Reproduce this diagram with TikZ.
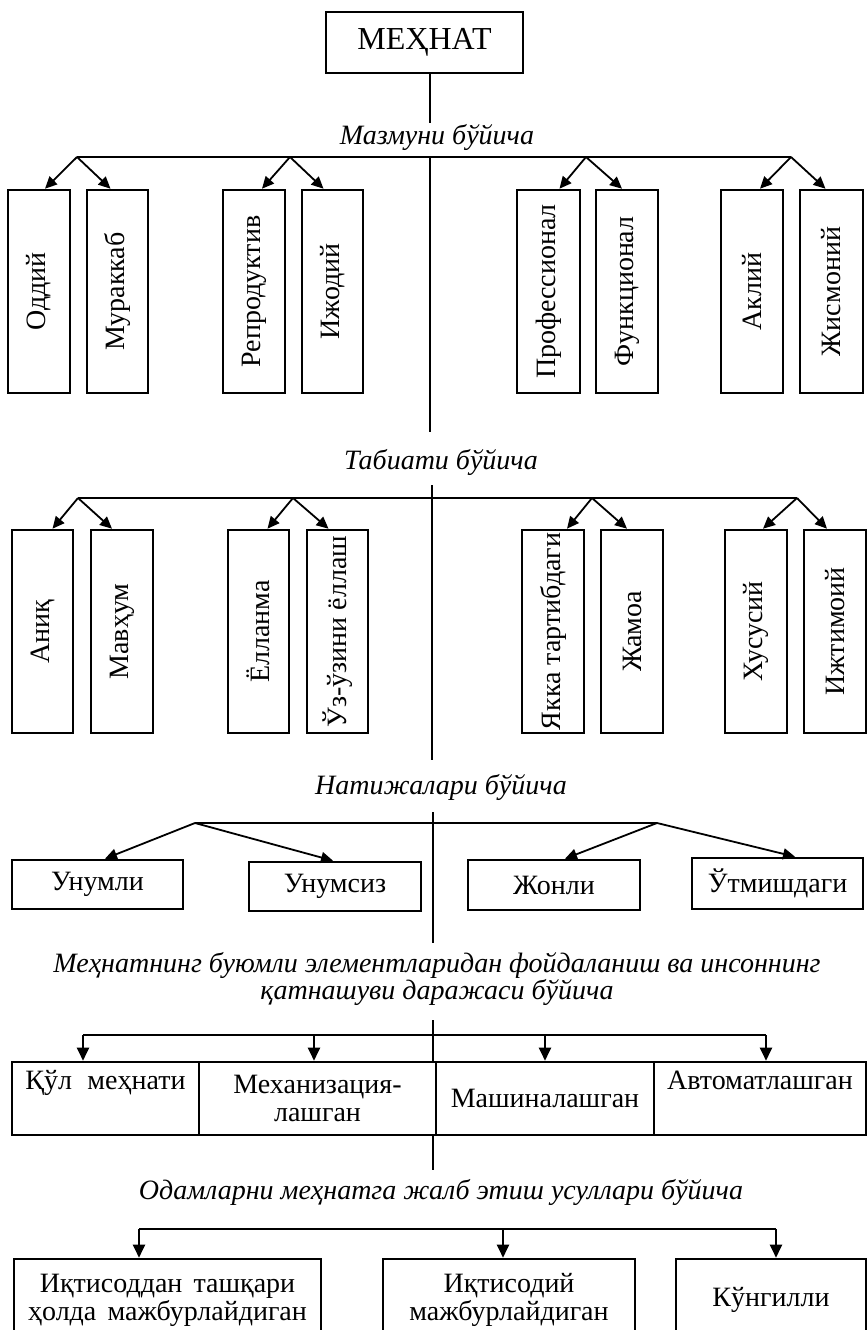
\documentclass[tikz,border=0pt]{standalone}
\usepackage{fontspec}
\usepackage{graphicx}
\setmainfont{Liberation Serif}
\usetikzlibrary{arrows.meta}
\begin{document}
\begin{tikzpicture}[x=1pt,y=-1pt,
  box/.style={draw,line width=2.6pt,inner sep=0pt,align=center,font=\fontsize{28}{28}\selectfont},
  ln/.style={line width=2pt},
  arr/.style={line width=1.8pt,-{Triangle[length=12pt,width=11pt]}},
  varr/.style={line width=2pt,-{Triangle[length=13pt,width=12pt]}},
  hd/.style={inner sep=0pt,align=center,font=\fontsize{28}{27}\selectfont\itshape}]
\useasboundingbox (0,0) rectangle (867,1330);
\clip (0,0) rectangle (867,1330);
\fill[white] (0,0) rectangle (867,1330);

% top
\node[box,minimum width=197pt,minimum height=61pt,font=\fontsize{32}{32}\selectfont] (top) at (424.5,42.5) {МЕҲНАТ};
\coordinate (c0) at (430,123);
\draw[ln] (top.south -| c0) -- (c0);

% ---- section 1
\node[hd] (h1) at (437,137) {Мазмуни бўйича};
\coordinate (f1) at (77,157);
\coordinate (f2) at (290,157);
\coordinate (f3) at (586,157);
\coordinate (f4) at (791,157);
\coordinate (c1a) at (430,157);
\coordinate (c1b) at (430,432);
\draw[ln] (f1) -- (f4);
\draw[ln] (c1a) -- (c1b);

\node[box,minimum width=62pt,minimum height=203pt] (b11) at (39,291.5) {\rotatebox{90}{Оддий}};
\node[box,minimum width=61pt,minimum height=203pt] (b12) at (117.5,291.5) {\rotatebox{90}{Мураккаб}};
\node[box,minimum width=62pt,minimum height=203pt] (b13) at (254,291.5) {\rotatebox{90}{Репродуктив}};
\node[box,minimum width=61pt,minimum height=203pt] (b14) at (332.5,291.5) {\rotatebox{90}{Ижодий}};
\node[box,minimum width=63pt,minimum height=203pt] (b15) at (548.5,291.5) {\rotatebox{90}{Профессионал}};
\node[box,minimum width=62pt,minimum height=203pt] (b16) at (627,291.5) {\rotatebox{90}{Функционал}};
\node[box,minimum width=62pt,minimum height=203pt] (b17) at (752,291.5) {\rotatebox{90}{Аклий}};
\node[box,minimum width=63pt,minimum height=203pt] (b18) at (831.5,291.5) {\rotatebox{90}{Жисмоний}};

\draw[arr] (f1) -- ([xshift=6pt]b11.north);
\draw[arr] (f1) -- ([xshift=-7pt]b12.north);
\draw[arr] (f2) -- ([xshift=8pt]b13.north);
\draw[arr] (f2) -- ([xshift=-9pt]b14.north);
\draw[arr] (f3) -- ([xshift=11pt]b15.north);
\draw[arr] (f3) -- ([xshift=-5pt]b16.north);
\draw[arr] (f4) -- ([xshift=8pt]b17.north);
\draw[arr] (f4) -- ([xshift=-6pt]b18.north);

% ---- section 2
\node[hd] (h2) at (441,462) {Табиати бўйича};
\coordinate (g1) at (78,498);
\coordinate (g2) at (293,498);
\coordinate (g3) at (592,498);
\coordinate (g4) at (797,498);
\coordinate (c2a) at (432,485);
\coordinate (c2b) at (432,760);
\draw[ln] (g1) -- (g4);
\draw[ln] (c2a) -- (c2b);

\node[box,minimum width=61pt,minimum height=203pt] (b21) at (42.5,631.5) {\rotatebox{90}{Аниқ}};
\node[box,minimum width=62pt,minimum height=203pt] (b22) at (122,631.5) {\rotatebox{90}{Мавҳум}};
\node[box,minimum width=61pt,minimum height=203pt] (b23) at (258.5,631.5) {\rotatebox{90}{Ёлланма}};
\node[box,minimum width=61pt,minimum height=203pt] (b24) at (337.5,631.5) {\rotatebox{90}{Ўз-ўзини ёллаш}};
\node[box,minimum width=62pt,minimum height=203pt] (b25) at (553,631.5) {\rotatebox{90}{Якка тартибдаги}};
\node[box,minimum width=62pt,minimum height=203pt] (b26) at (632,631.5) {\rotatebox{90}{Жамоа}};
\node[box,minimum width=62pt,minimum height=203pt] (b27) at (756,631.5) {\rotatebox{90}{Хусусий}};
\node[box,minimum width=62pt,minimum height=203pt] (b28) at (835,631.5) {\rotatebox{90}{Ижтимоий}};

\draw[arr] (g1) -- ([xshift=10pt]b21.north);
\draw[arr] (g1) -- ([xshift=-10pt]b22.north);
\draw[arr] (g2) -- ([xshift=9pt]b23.north);
\draw[arr] (g2) -- ([xshift=-9pt]b24.north);
\draw[arr] (g3) -- ([xshift=14pt]b25.north);
\draw[arr] (g3) -- ([xshift=-5pt]b26.north);
\draw[arr] (g4) -- ([xshift=7pt]b27.north);
\draw[arr] (g4) -- ([xshift=-8pt]b28.north);

% ---- section 3
\node[hd] (h3) at (441,787) {Натижалари бўйича};
\coordinate (k1) at (195,823);
\coordinate (k2) at (657,823);
\coordinate (c3a) at (433,812);
\coordinate (c3b) at (433,943);
\draw[ln] (k1) -- (k2);
\draw[ln] (c3a) -- (c3b);

\node[box,minimum width=171pt,minimum height=49pt] (b31) at (97.5,884.5) {Унумли};
\node[box,minimum width=172pt,minimum height=49pt] (b32) at (335,886.5) {Унумсиз};
\node[box,minimum width=172pt,minimum height=50pt] (b33) at (554,885) {Жонли};
\node[box,minimum width=171pt,minimum height=51pt] (b34) at (777.5,883.5) {Ўтмишдаги};

\draw[arr] (k1) -- ([xshift=7.5pt]b31.north);
\draw[arr] (k1) -- ([xshift=-2pt]b32.north);
\draw[arr] (k2) -- ([xshift=11pt]b33.north);
\draw[arr] (k2) -- ([xshift=17.5pt]b34.north);

% ---- section 4
\node[hd] (h4) at (437,978.5) {Меҳнатнинг буюмли элементларидан фойдаланиш ва инсоннинг\\қатнашуви даражаси бўйича};
\coordinate (m1) at (83,1035);
\coordinate (m2) at (314,1035);
\coordinate (m3) at (545,1035);
\coordinate (m4) at (766,1035);
\coordinate (c4a) at (433,1020);
\draw[ln] (m1) -- (m4);

\node[box,minimum width=187pt,minimum height=73pt] (b41) at (105.5,1098.5) {\mbox{Қўл\hspace{0.3em} меҳнати}\\\strut};
\node[box,minimum width=237pt,minimum height=73pt] (b42) at (317.5,1098.5) {Механизация-\\лашган};
\node[box,minimum width=218pt,minimum height=73pt] (b43) at (545,1098.5) {\raisebox{-3pt}{Машиналашган}};
\node[box,minimum width=212pt,minimum height=73pt] (b44) at (760,1098.5) {Автоматлашган\\\strut};

\draw[ln] (c4a) -- (c4a |- b43.north);
\draw[varr] (m1) -- (m1 |- b41.north);
\draw[varr] (m2) -- (m2 |- b42.north);
\draw[varr] (m3) -- (m3 |- b43.north);
\draw[varr] (m4) -- (m4 |- b44.north);

\coordinate (c5a) at (433,1170);
\draw[ln] (c5a |- b42.south) -- (c5a);

% ---- section 5
\node[hd] (h5) at (441,1192) {Одамларни меҳнатга жалб этиш усуллари бўйича};
\coordinate (n1) at (139,1229);
\coordinate (n2) at (503,1229);
\coordinate (n3) at (776,1229);
\draw[ln] (n1) -- (n3);

\node[box,minimum width=307pt,minimum height=82pt] (b51) at (167.5,1300) {\mbox{Иқтисоддан\hspace{0.15em} ташқари}\\\mbox{ҳолда\hspace{0.15em} мажбурлайдиган}};
\node[box,minimum width=252pt,minimum height=82pt] (b52) at (509,1300) {Иқтисодий\\мажбурлайдиган};
\node[box,minimum width=190pt,minimum height=82pt] (b53) at (771,1300) {Кўнгилли};

\draw[varr] (n1) -- (n1 |- b51.north);
\draw[varr] (n2) -- (n2 |- b52.north);
\draw[varr] (n3) -- (n3 |- b53.north);
\end{tikzpicture}
\end{document}
